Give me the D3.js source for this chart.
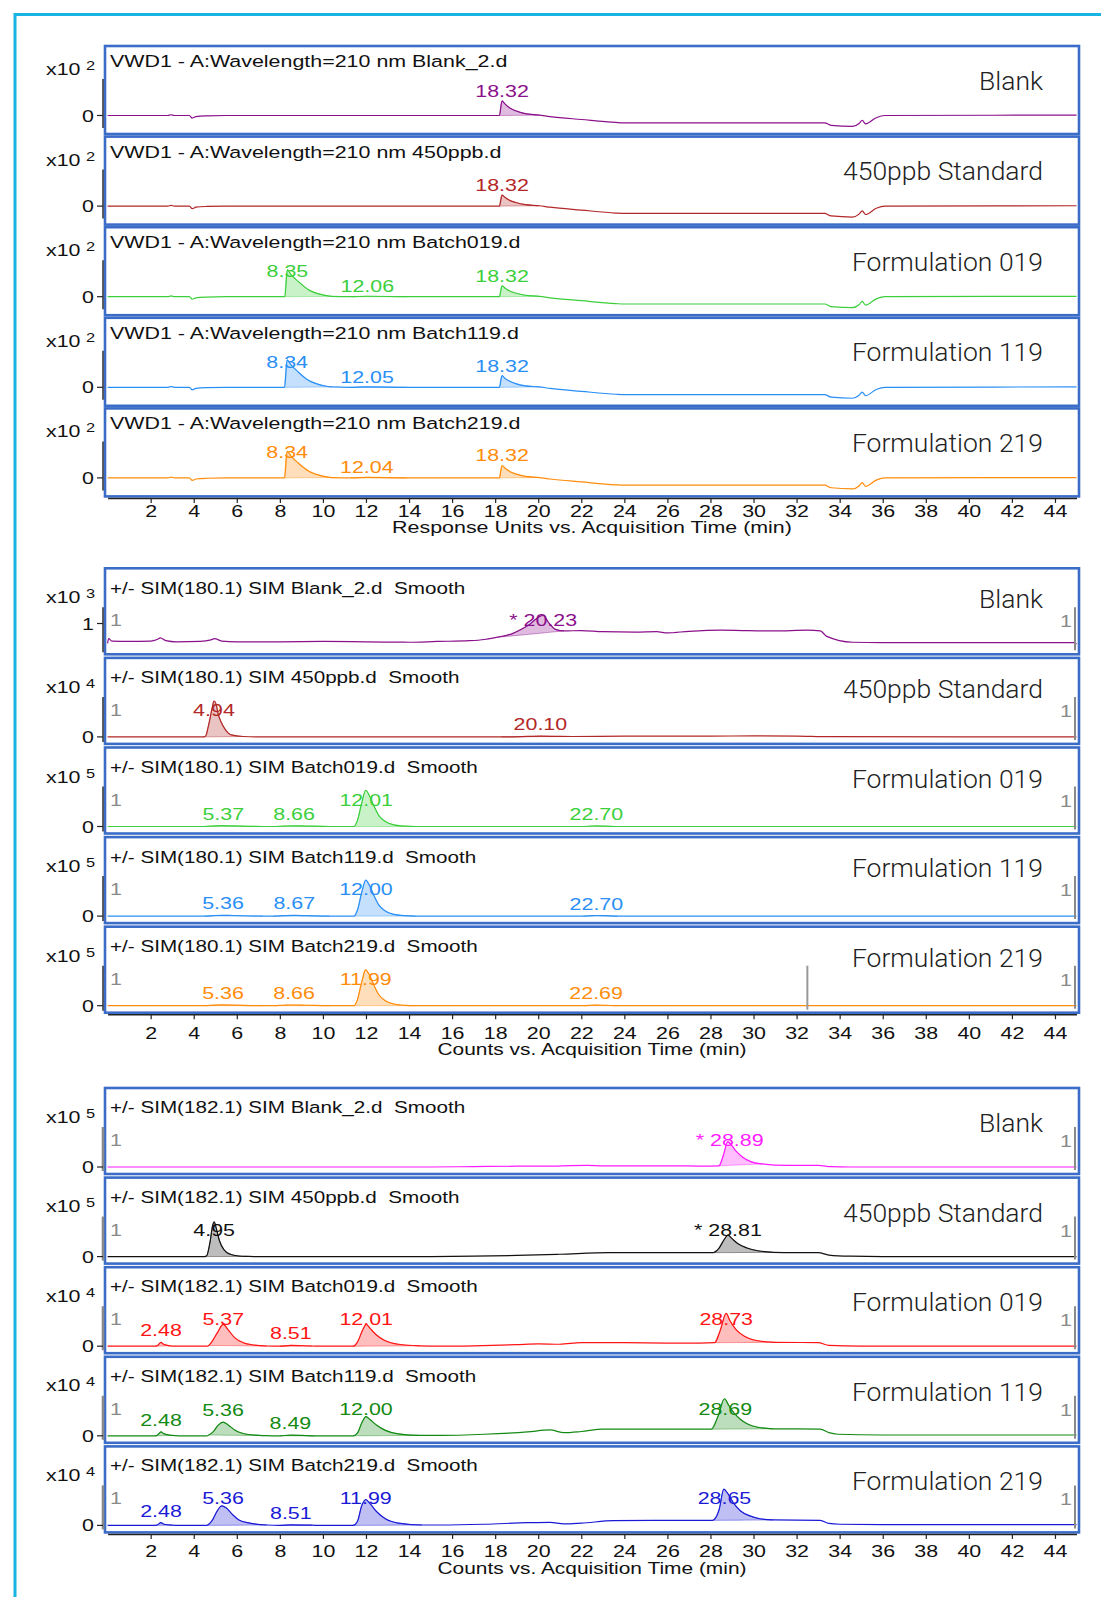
<!DOCTYPE html>
<html>
<head>
<meta charset="utf-8">
<title>Chromatogram overlays</title>
<style>
  body { margin:0; background:#fff; }
  svg text { font-family: "Liberation Sans", Arial, sans-serif; white-space: pre; }
  .big { font-family: Roboto, "Open Sans", sans-serif !important; font-weight:300; }
</style>
</head>
<body>
<script src="https://cdn.jsdelivr.net/npm/d3@7/dist/d3.min.js"></script>
<script>

// ---------- data ----------
var timeTicks = [2,4,6,8,10,12,14,16,18,20,22,24,26,28,30,32,34,36,38,40,42,44];
var sampleNames = ["Blank", "450ppb Standard", "Formulation 019", "Formulation 119", "Formulation 219"];

// UV 210 nm (x10^2)
var uvTitles = ["VWD1 - A:Wavelength=210 nm Blank_2.d", "VWD1 - A:Wavelength=210 nm 450ppb.d",
  "VWD1 - A:Wavelength=210 nm Batch019.d", "VWD1 - A:Wavelength=210 nm Batch119.d", "VWD1 - A:Wavelength=210 nm Batch219.d"];
var uvColors = ["#8b108b", "#b22727", "#3ccf3c", "#2a8ff5", "#ff8c0a"];
var uvExp = ["2","2","2","2","2"];
var uvBlank = [[0,0],[2.8,0],[2.95,0.02],[3.1,0],[3.8,0],[3.93,-0.07],[4.1,-0.03],[4.6,-0.01],[5.5,0],[18.2,0],[18.32,0.4],[18.45,0.32],[18.7,0.2],[18.95,0.13],[19.4,0.05],[20.05,0.01],[20.55,-0.03],[22,-0.11],[23.6,-0.19],[24,-0.2],[33.3,-0.2],[33.6,-0.27],[34.6,-0.3],[34.9,-0.22],[35.05,-0.13],[35.2,-0.23],[35.7,-0.06],[36.1,0],[45,0.01]];
var uv450 = [[0,0],[2.8,0],[2.95,0.02],[3.1,0],[3.8,0],[3.93,-0.07],[4.1,-0.03],[4.6,-0.01],[5.5,0],[18.2,0],[18.32,0.3],[18.45,0.24],[18.7,0.15],[18.95,0.1],[19.4,0.04],[20.05,0.01],[20.55,-0.03],[22,-0.11],[23.6,-0.19],[24,-0.2],[33.3,-0.2],[33.6,-0.27],[34.6,-0.3],[34.9,-0.22],[35.05,-0.13],[35.2,-0.23],[35.7,-0.06],[36.1,0],[45,0.01]];
var uv019 = [[0,0],[2.8,0],[2.95,0.02],[3.1,0],[3.8,0],[3.93,-0.07],[4.1,-0.03],[4.6,-0.01],[5.5,0],[8.23,0],[8.35,0.74],[8.5,0.62],[8.85,0.42],[9.33,0.19],[9.99,0.05],[10.4,0.01],[11.3,0],[12.06,0.012],[13.9,0],[18.2,0],[18.32,0.3],[18.45,0.24],[18.7,0.15],[18.95,0.1],[19.4,0.04],[20.05,0.01],[20.55,-0.03],[22,-0.11],[23.6,-0.19],[24,-0.2],[33.3,-0.2],[33.6,-0.27],[34.6,-0.3],[34.9,-0.22],[35.05,-0.13],[35.2,-0.23],[35.7,-0.06],[36.1,0],[45,0.01]];
var uv119 = [[0,0],[2.8,0],[2.95,0.02],[3.1,0],[3.8,0],[3.93,-0.07],[4.1,-0.03],[4.6,-0.01],[5.5,0],[8.22,0],[8.34,0.75],[8.5,0.63],[8.85,0.42],[9.33,0.19],[9.99,0.05],[10.4,0.01],[11.3,0],[12.05,0.012],[13.9,0],[18.2,0],[18.32,0.32],[18.45,0.25],[18.7,0.16],[18.95,0.1],[19.4,0.04],[20.05,0.01],[20.55,-0.03],[22,-0.11],[23.6,-0.19],[24,-0.2],[33.3,-0.2],[33.6,-0.27],[34.6,-0.3],[34.9,-0.22],[35.05,-0.13],[35.2,-0.23],[35.7,-0.06],[36.1,0],[45,0.01]];
var uv219 = [[0,0],[2.8,0],[2.95,0.02],[3.1,0],[3.8,0],[3.93,-0.07],[4.1,-0.03],[4.6,-0.01],[5.5,0],[8.22,0],[8.34,0.73],[8.5,0.61],[8.85,0.41],[9.33,0.19],[9.99,0.05],[10.4,0.01],[11.3,0],[12.04,0.012],[13.9,0],[18.2,0],[18.32,0.34],[18.45,0.27],[18.7,0.17],[18.95,0.11],[19.4,0.04],[20.05,0.01],[20.55,-0.03],[22,-0.11],[23.6,-0.19],[24,-0.2],[33.3,-0.2],[33.6,-0.27],[34.6,-0.3],[34.9,-0.22],[35.05,-0.13],[35.2,-0.23],[35.7,-0.06],[36.1,0],[45,0.01]];
var uvFills = [
  [[18.2,20.05]],
  [[18.2,20.05]],
  [[8.23,10.4],[11.3,13.9],[18.2,20.05]],
  [[8.22,10.4],[11.3,13.9],[18.2,20.05]],
  [[8.22,10.4],[11.3,13.9],[18.2,20.05]]
];
var uvPeaks = [
  [[18.32,"18.32"]],
  [[18.32,"18.32"]],
  [[8.35,"8.35"],[12.06,"12.06"],[18.32,"18.32"]],
  [[8.34,"8.34"],[12.05,"12.05"],[18.32,"18.32"]],
  [[8.34,"8.34"],[12.04,"12.04"],[18.32,"18.32"]]
];

// SIM 180.1
var sim180Titles = ["+/- SIM(180.1) SIM Blank_2.d  Smooth", "+/- SIM(180.1) SIM 450ppb.d  Smooth",
  "+/- SIM(180.1) SIM Batch019.d  Smooth", "+/- SIM(180.1) SIM Batch119.d  Smooth", "+/- SIM(180.1) SIM Batch219.d  Smooth"];
var sim180Colors = ["#8b108b", "#b22727", "#3ccf3c", "#2a8ff5", "#ff8c0a"];
var sim180Exp = ["3","4","5","5","5"];
var sim180Blank = [[0,0.1],[0.05,0.22],[0.2,0.16],[1,0.15],[2,0.16],[2.3,0.2],[2.45,0.24],[2.7,0.17],[3.2,0.14],[4.3,0.15],[4.8,0.19],[4.97,0.22],[5.3,0.16],[6,0.14],[8,0.14],[10,0.15],[12,0.14],[14,0.13],[15.3,0.15],[16.8,0.17],[17.5,0.2],[18.0,0.25],[18.8,0.35],[19.5,0.55],[20.23,0.82],[20.5,0.62],[20.8,0.46],[21.2,0.42],[22,0.43],[23,0.4],[24.5,0.39],[25.5,0.4],[26,0.37],[27,0.41],[28.5,0.44],[29.5,0.43],[31,0.42],[32.5,0.44],[33.1,0.42],[33.4,0.28],[34.6,0.13],[36,0.12],[40,0.12],[44.9,0.12],[45,0.08]];
var sim180_450 = [[0,0],[4.45,0],[4.55,0.02],[4.69,0.3],[4.86,0.75],[4.94,0.92],[5.05,0.82],[5.12,0.62],[5.3,0.35],[5.43,0.22],[5.75,0.05],[6.3,0.01],[7,0],[18.3,0],[19.5,0.012],[20.1,0.02],[21,0.012],[21.6,0.01],[24,0.02],[28,0.02],[30,0.025],[32,0.02],[33.5,0.005],[45,0]];
var sim180_019 = [[0,0],[4.5,0],[5.0,0.015],[5.37,0.02],[5.8,0.015],[7.2,0],[7.7,0],[8.2,0.012],[8.66,0.018],[9.2,0.012],[10.3,0],[11.45,0],[11.6,0.15],[11.8,0.6],[11.99,0.93],[12.15,0.8],[12.35,0.55],[12.6,0.28],[12.9,0.13],[13.25,0.05],[13.8,0.01],[14.3,0],[22.1,0],[22.5,0.012],[22.7,0.015],[23.1,0.01],[23.7,0],[45,0]];
var sim180_119 = [[0,0],[4.5,0],[5.0,0.015],[5.36,0.02],[5.8,0.015],[7.2,0],[7.7,0],[8.2,0.012],[8.67,0.018],[9.2,0.012],[10.3,0],[11.45,0],[11.6,0.15],[11.8,0.6],[11.99,0.92],[12.15,0.8],[12.35,0.55],[12.6,0.28],[12.9,0.13],[13.25,0.05],[13.8,0.01],[14.3,0],[22.1,0],[22.5,0.012],[22.7,0.015],[23.1,0.01],[23.7,0],[45,0]];
var sim180_219 = [[0,0],[4.5,0],[5.0,0.015],[5.36,0.02],[5.8,0.015],[7.2,0],[7.7,0],[8.2,0.012],[8.66,0.018],[9.2,0.012],[10.3,0],[11.45,0],[11.6,0.15],[11.8,0.6],[11.98,0.92],[12.15,0.8],[12.35,0.55],[12.6,0.28],[12.9,0.13],[13.25,0.05],[13.8,0.01],[14.3,0],[22.1,0],[22.5,0.012],[22.69,0.015],[23.1,0.01],[23.7,0],[45,0]];
var sim180Fills = [
  [[18.0,21.2]],
  [[4.45,6.3],[18.3,21.6]],
  [[4.5,7.2],[7.7,10.3],[11.45,14.3],[22.1,23.7]],
  [[4.5,7.2],[7.7,10.3],[11.45,14.3],[22.1,23.7]],
  [[4.5,7.2],[7.7,10.3],[11.45,14.3],[22.1,23.7]]
];
var sim180Peaks = [
  [[20.23,"* 20.23"]],
  [[4.94,"4.94"],[20.10,"20.10"]],
  [[5.37,"5.37"],[8.66,"8.66"],[12.01,"12.01"],[22.70,"22.70"]],
  [[5.36,"5.36"],[8.67,"8.67"],[12.00,"12.00"],[22.70,"22.70"]],
  [[5.36,"5.36"],[8.66,"8.66"],[11.99,"11.99"],[22.69,"22.69"]]
];
var sim180Ticks = [[[0.61,"1"]], [[0,"0"]], [[0,"0"]], [[0,"0"]], [[0,"0"]]];
var sim180Marks = [[], [], [], [], [32.5]];

// SIM 182.1
var sim182Titles = ["+/- SIM(182.1) SIM Blank_2.d  Smooth", "+/- SIM(182.1) SIM 450ppb.d  Smooth",
  "+/- SIM(182.1) SIM Batch019.d  Smooth", "+/- SIM(182.1) SIM Batch119.d  Smooth", "+/- SIM(182.1) SIM Batch219.d  Smooth"];
var sim182Colors = ["#ff1aff", "#111111", "#ff1414", "#138a13", "#1a1ad6"];
var sim182Exp = ["5","5","4","4","4"];
var sim182Blank = [[0,0],[15,0],[17,0.01],[19,0.02],[20.5,0.02],[21.5,0.035],[22.3,0.04],[23,0.03],[24,0.03],[26,0.03],[27.5,0.025],[28.4,0.03],[28.6,0.3],[28.8,0.65],[28.95,0.58],[29.2,0.4],[29.5,0.25],[29.9,0.13],[30.4,0.08],[31,0.05],[32,0.04],[33,0.04],[33.6,0.01],[34.5,0],[45,0]];
var sim182_450 = [[0,0],[4.5,0],[4.6,0.02],[4.75,0.35],[4.88,0.8],[4.95,0.89],[5.05,0.72],[5.2,0.4],[5.4,0.18],[5.7,0.06],[6.1,0.015],[6.5,0.005],[6.8,0],[15,0],[17,0.01],[19,0.03],[21,0.06],[23.3,0.1],[26,0.1],[28.1,0.1],[28.4,0.22],[28.65,0.45],[28.81,0.55],[29,0.46],[29.3,0.32],[29.7,0.22],[30.2,0.15],[30.9,0.11],[32,0.1],[33,0.1],[33.5,0.04],[34.5,0.01],[36,0],[45,0]];
var sim182_019 = [[0,0],[2.2,0],[2.3,0.01],[2.48,0.1],[2.6,0.05],[2.9,0.01],[3.2,0],[4.6,0],[4.7,0.02],[4.8,0.08],[5.1,0.35],[5.37,0.56],[5.6,0.42],[5.9,0.22],[6.3,0.09],[6.8,0.03],[7.4,0.005],[8,0],[8.51,0.02],[9.5,0.005],[10,0],[11.4,0],[11.6,0.1],[11.85,0.42],[12.01,0.56],[12.2,0.45],[12.5,0.28],[12.9,0.14],[13.5,0.05],[14.5,0.01],[15.5,0],[17,0.01],[19,0.04],[20,0.06],[21,0.05],[22,0.09],[24,0.09],[26,0.08],[27.5,0.08],[28.2,0.09],[28.45,0.4],[28.73,0.84],[28.9,0.66],[29.2,0.42],[29.6,0.25],[30.2,0.14],[31,0.1],[33,0.09],[33.5,0.02],[35,0],[45,0]];
var sim182_119 = [[0,0],[2.2,0],[2.3,0.01],[2.48,0.1],[2.62,0.05],[3.0,0.01],[3.3,0],[4.6,0],[4.7,0.02],[4.9,0.1],[5.15,0.28],[5.36,0.35],[5.6,0.28],[5.9,0.15],[6.3,0.06],[6.9,0.015],[7.3,0.005],[7.6,0],[8.0,0],[8.49,0.015],[9.0,0.01],[9.6,0],[11.4,0],[11.6,0.07],[11.82,0.35],[12.0,0.49],[12.2,0.41],[12.5,0.27],[12.9,0.14],[13.5,0.05],[14.5,0.01],[15.5,0.01],[17.5,0.04],[19.5,0.1],[20.55,0.15],[21.2,0.08],[22,0.11],[23,0.17],[26,0.17],[28.05,0.17],[28.35,0.5],[28.65,0.95],[28.85,0.78],[29.1,0.58],[29.4,0.42],[29.7,0.31],[30.2,0.22],[30.9,0.18],[33.1,0.17],[33.5,0.08],[33.9,0.04],[36,0.02],[45,0.02]];
var sim182_219 = [[0,0],[2.2,0],[2.3,0.01],[2.48,0.07],[2.62,0.03],[3.0,0.005],[3.3,0],[4.6,0],[4.85,0.12],[5.1,0.38],[5.3,0.5],[5.5,0.45],[5.8,0.28],[6.1,0.14],[6.6,0.06],[7.4,0.01],[8,0],[8.51,0.015],[9.5,0.005],[10,0],[11.4,0],[11.6,0.1],[11.8,0.5],[11.99,0.66],[12.2,0.55],[12.5,0.35],[12.9,0.17],[13.5,0.06],[14.6,0.01],[15.5,0.01],[17.5,0.03],[19.5,0.07],[20.55,0.08],[21.2,0.04],[22,0.06],[23.5,0.12],[26,0.13],[28.1,0.13],[28.4,0.4],[28.62,0.93],[28.8,0.82],[29.1,0.55],[29.4,0.37],[29.8,0.25],[30.3,0.17],[30.9,0.14],[33.1,0.13],[33.5,0.05],[34,0.03],[36,0.02],[45,0.02]];
var sim182Fills = [
  [[28.4,30.4]],
  [[4.5,6.5],[28.1,30.9]],
  [[2.2,2.9],[4.7,7.4],[8,9.5],[11.4,14.5],[28.2,31]],
  [[2.2,3.0],[4.7,7.3],[8.0,9.6],[11.4,14.5],[28.05,30.9]],
  [[2.2,3.0],[4.6,7.4],[8,9.5],[11.4,14.6],[28.1,30.9]]
];
var sim182Peaks = [
  [[28.89,"* 28.89"]],
  [[4.95,"4.95"],[28.81,"* 28.81"]],
  [[2.48,"2.48"],[5.37,"5.37"],[8.51,"8.51"],[12.01,"12.01"],[28.73,"28.73"]],
  [[2.48,"2.48"],[5.36,"5.36"],[8.49,"8.49"],[12.00,"12.00"],[28.69,"28.69"]],
  [[2.48,"2.48"],[5.36,"5.36"],[8.51,"8.51"],[11.99,"11.99"],[28.65,"28.65"]]
];

// ---------- layout ----------
var W = 1101, H = 1597;
var SX = 1.26;           // the exported chromatogram text is stretched sideways
var FS = 17;
var boxL = 105, boxR = 1079;

var svg = d3.select("body").append("svg").attr("width", W).attr("height", H);
var defs = svg.append("defs");

// outer cyan frame
svg.append("path")
  .attr("d", "M15," + H + " V14.5 H" + W)
  .attr("fill", "none").attr("stroke", "#19b4e4").attr("stroke-width", 3);

var x = d3.scaleLinear().domain([0, 45]).range([107.6, 1076.5]);

function stext(sel, px, py, str, size, anchor, sx) {
  return sel.append("text")
    .attr("transform", "translate(" + px + "," + py + ") scale(" + (sx || SX) + ",1)")
    .attr("text-anchor", anchor || "start")
    .attr("xml:space", "preserve")
    .style("font-size", (size || FS) + "px")
    .text(str);
}

var groups = [
  { top:46, pitch:90.6, h:88, zero:69.5, unit:36.5, axTop:33, axBot:82, titleY:21, expY:29, labelY:43.5,
    clamp:50, lift:4, ticksDy:13, xTitleDy:36.5, markers:false, grayAxis:false, titleSX:1.26, xTitleSX:1.26,
    xTitle:"Response Units vs. Acquisition Time (min)",
    titles:uvTitles, colors:uvColors, exps:uvExp, traces:[uvBlank, uv450, uv019, uv119, uv219],
    fills:uvFills, peaks:uvPeaks, ticks:[[[0,"0"]],[[0,"0"]],[[0,"0"]],[[0,"0"]],[[0,"0"]]], marks:[[],[],[],[],[]] },
  { top:568.3, pitch:89.6, h:86, zero:79, unit:39, axTop:39, axBot:84, titleY:25.5, expY:35, labelY:40,
    clamp:58, lift:6, ticksDy:18.5, xTitleDy:42.5, markers:true, grayAxis:false, titleSX:1.215, xTitleSX:1.23,
    xTitle:"Counts vs. Acquisition Time (min)",
    titles:sim180Titles, colors:sim180Colors, exps:sim180Exp, traces:[sim180Blank, sim180_450, sim180_019, sim180_119, sim180_219],
    fills:sim180Fills, peaks:sim180Peaks, ticks:sim180Ticks, marks:sim180Marks },
  { top:1088, pitch:89.6, h:86, zero:79, unit:39, axTop:39, axBot:83, titleY:25, expY:34.5, labelY:44,
    clamp:58, lift:6, ticksDy:17, xTitleDy:42, markers:true, grayAxis:true, titleSX:1.215, xTitleSX:1.23,
    xTitle:"Counts vs. Acquisition Time (min)",
    titles:sim182Titles, colors:sim182Colors, exps:sim182Exp, traces:[sim182Blank, sim182_450, sim182_019, sim182_119, sim182_219],
    fills:sim182Fills, peaks:sim182Peaks, ticks:[[[0,"0"]],[[0,"0"]],[[0,"0"]],[[0,"0"]],[[0,"0"]]], marks:[[],[],[],[],[]] }
];

var line = d3.line().curve(d3.curveMonotoneX);

groups.forEach(function(G, gi) {
  G.traces.forEach(function(trace, i) {
    var top = G.top + i * G.pitch;
    var color = G.colors[i];
    var y = d3.scaleLinear().domain([0, 1]).range([top + G.zero, top + G.zero - G.unit]);
    var g = svg.append("g");

    var cid = "clip" + gi + "_" + i;
    defs.append("clipPath").attr("id", cid).append("rect")
      .attr("x", boxL + 1).attr("y", top + 1).attr("width", boxR - boxL - 2).attr("height", G.h - 2);
    var plot = g.append("g").attr("clip-path", "url(#" + cid + ")");

    // integrated peak areas
    G.fills[i].forEach(function(iv) {
      var pts = trace.filter(function(d) { return d[0] >= iv[0] - 1e-6 && d[0] <= iv[1] + 1e-6; });
      if (pts.length < 2) return;
      var a = pts[0], b = pts[pts.length - 1];
      var area = d3.area().curve(d3.curveMonotoneX)
        .x(function(d) { return x(d[0]); })
        .y1(function(d) { return y(d[1]); })
        .y0(function(d) { return y(a[1] + (b[1] - a[1]) * (d[0] - a[0]) / (b[0] - a[0])); });
      plot.append("path").attr("d", area(pts))
        .attr("fill", color).attr("fill-opacity", 0.28)
        .attr("stroke", color).attr("stroke-opacity", 0.5).attr("stroke-width", 0.8);
    });

    plot.append("path")
      .attr("d", line(trace.map(function(d) { return [x(d[0]), y(d[1])]; })))
      .attr("fill", "none").attr("stroke", color).attr("stroke-width", 1.2);

    // extra gray marker lines
    G.marks[i].forEach(function(t) {
      g.append("line").attr("x1", x(t)).attr("x2", x(t))
        .attr("y1", top + 39).attr("y2", top + 83)
        .attr("stroke", "#999").attr("stroke-width", 2);
    });

    // panel frame
    g.append("rect").attr("x", boxL).attr("y", top).attr("width", boxR - boxL).attr("height", G.h)
      .attr("fill", "none").attr("stroke", "#3b6dc8").attr("stroke-width", 2.6);

    // y axis
    g.append("line").attr("x1", 103).attr("x2", 103)
      .attr("y1", top + G.axTop).attr("y2", top + G.axBot)
      .attr("stroke", G.grayAxis ? "#8a8a8a" : "#222")
      .attr("stroke-width", G.grayAxis ? 2.6 : 1.4);
    G.ticks[i].forEach(function(tk) {
      g.append("line").attr("x1", 97).attr("x2", 103).attr("y1", y(tk[0])).attr("y2", y(tk[0]))
        .attr("stroke", "#222").attr("stroke-width", 1.2);
      stext(g, 94, y(tk[0]) + 6, tk[1], FS, "end").attr("fill", "#111");
    });

    // exponent
    stext(g, 46, top + G.expY, "x10", FS).attr("fill", "#111");
    stext(g, 86, top + G.expY - 5, G.exps[i], 13).attr("fill", "#111");

    // titles
    stext(g, 110, top + G.titleY, G.titles[i], FS, "start", G.titleSX).attr("fill", "#111");
    g.append("text").attr("class", "big")
      .attr("x", 1043).attr("y", top + G.labelY)
      .attr("text-anchor", "end")
      .style("font-size", "26.5px").attr("fill", "#222")
      .text(sampleNames[i]);

    // gray "1" markers
    if (G.markers) {
      stext(g, 116, top + 58, "1", FS, "middle").attr("fill", "#8a8a8a");
      stext(g, 1066, top + 59, "1", FS, "middle").attr("fill", "#8a8a8a");
      g.append("line").attr("x1", 1075).attr("x2", 1075)
        .attr("y1", top + 39).attr("y2", top + 82)
        .attr("stroke", "#8a8a8a").attr("stroke-width", 2);
    }

    // peak labels
    G.peaks[i].forEach(function(pk) {
      var near = trace.filter(function(d) { return Math.abs(d[0] - pk[0]) <= 0.3; });
      var v = near.length ? d3.max(near, function(d) { return d[1]; }) : 0;
      var ly = Math.max(y(v) - G.lift, top + G.clamp);
      stext(g, x(pk[0]), ly, pk[1], FS, "middle").attr("fill", color);
    });
  });

  // x axis below the last panel
  var bottom = G.top + 4 * G.pitch + G.h;
  var axY = bottom + 1.5;
  var ax = svg.append("g").attr("transform", "translate(0," + axY + ")")
    .call(d3.axisBottom(x).tickValues(timeTicks).tickSize(5).tickSizeOuter(0));
  ax.select(".domain").attr("stroke", "#222").attr("stroke-width", 1.5);
  ax.selectAll(".tick line").attr("stroke", "#222").attr("stroke-width", 1.2);
  ax.selectAll(".tick text")
    .attr("y", G.ticksDy).attr("dy", "0.35em")
    .attr("transform", "scale(" + SX + ",1)")
    .attr("fill", "#111")
    .style("font-family", "'Liberation Sans', Arial, sans-serif")
    .style("font-size", FS + "px");

  stext(svg, 592, bottom + G.xTitleDy, G.xTitle, FS, "middle", G.xTitleSX).attr("fill", "#111");
});

</script>
</body>
</html>
